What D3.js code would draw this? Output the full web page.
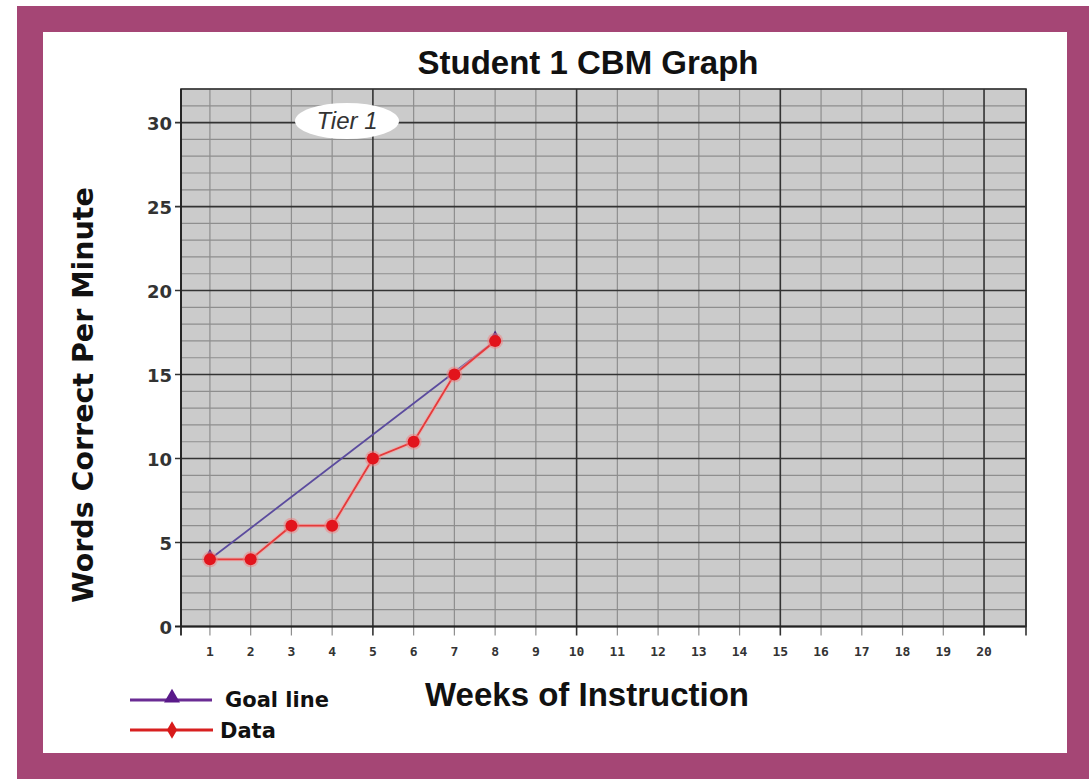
<!DOCTYPE html>
<html><head><meta charset="utf-8">
<script src="https://cdn.jsdelivr.net/npm/d3@7"></script>
<style>html,body{margin:0;padding:0;background:#fff;}svg{display:block;}</style>
</head><body>
<script>
// ---- data ----
const weeks = [1,2,3,4,5,6,7,8,9,10,11,12,13,14,15,16,17,18,19,20];
const yTicks = [0,5,10,15,20,25,30];
const goalWeeks = [1,8];
const goalValues = [4,17];
const dataWeeks = [1,2,3,4,5,6,7,8];
const dataValues = [4,4,6,6,10,11,15,17];
const title = "Student 1 CBM Graph";
const tierLabel = "Tier 1";
const legendLabels = ["Goal line","Data"];

const W = 1089, H = 779;
const svg = d3.select("body").append("svg").attr("width",W).attr("height",H);

// frame
svg.append("rect").attr("x",17).attr("y",6).attr("width",W-17).attr("height",H-6).attr("fill","#a54675");
svg.append("rect").attr("x",43).attr("y",32).attr("width",1024).attr("height",721).attr("fill","#ffffff");

const x = d3.scaleLinear().domain([0.29,21.03]).range([181,1026]);
const y = d3.scaleLinear().domain([0,32]).range([626.5,89]);

const g = svg.append("g");
g.append("rect").attr("x",x.range()[0]).attr("y",y.range()[1])
  .attr("width",x.range()[1]-x.range()[0]).attr("height",y.range()[0]-y.range()[1])
  .attr("fill","#cbcbcb");

// minor horizontal lines
const yMinor = d3.range(1,33).filter(v=>v%5!==0);
g.selectAll("line.hmin").data(yMinor).join("line")
  .attr("x1",x.range()[0]).attr("x2",x.range()[1])
  .attr("y1",d=>y(d)).attr("y2",d=>y(d))
  .attr("stroke","#8e8e8e").attr("stroke-width",1.2);
// minor vertical
g.selectAll("line.vmin").data(weeks.filter(w=>w%5!==0)).join("line")
  .attr("x1",d=>x(d)).attr("x2",d=>x(d))
  .attr("y1",y.range()[1]).attr("y2",y.range()[0]+9)
  .attr("stroke","#8e8e8e").attr("stroke-width",1.2);
// major horizontal
g.selectAll("line.hmaj").data(yTicks.filter(v=>v>0)).join("line")
  .attr("x1",x.range()[0]-6).attr("x2",x.range()[1])
  .attr("y1",d=>y(d)).attr("y2",d=>y(d))
  .attr("stroke","#333").attr("stroke-width",1.6);
// major vertical
g.selectAll("line.vmaj").data(weeks.filter(w=>w%5===0)).join("line")
  .attr("x1",d=>x(d)).attr("x2",d=>x(d))
  .attr("y1",y.range()[1]).attr("y2",y.range()[0]+9)
  .attr("stroke","#333").attr("stroke-width",1.6);
// border
g.append("rect").attr("x",x.range()[0]).attr("y",y.range()[1])
  .attr("width",x.range()[1]-x.range()[0]).attr("height",y.range()[0]-y.range()[1])
  .attr("fill","none").attr("stroke","#333").attr("stroke-width",1.6);
// axis base lines with extensions
g.append("line").attr("x1",x.range()[0]-6).attr("x2",x.range()[1]).attr("y1",y(0)).attr("y2",y(0)).attr("stroke","#222").attr("stroke-width",1.8);
g.append("line").attr("x1",x.range()[0]).attr("x2",x.range()[0]).attr("y1",y.range()[1]).attr("y2",y(0)+9).attr("stroke","#222").attr("stroke-width",1.8);
g.append("line").attr("x1",x.range()[1]).attr("x2",x.range()[1]).attr("y1",y.range()[1]).attr("y2",y(0)+9).attr("stroke","#333").attr("stroke-width",1.6);

// tick labels
g.selectAll("text.yt").data(yTicks).join("text")
  .attr("x",x.range()[0]-9).attr("y",d=>y(d)+7)
  .attr("text-anchor","end").attr("font-family","DejaVu Sans").attr("font-weight","bold")
  .attr("font-size",18).attr("fill","#333").text(d=>d);
g.selectAll("text.xt").data(weeks).join("text")
  .attr("x",d=>x(d)).attr("y",656)
  .attr("text-anchor","middle").attr("font-family","DejaVu Sans Mono").attr("font-weight","bold")
  .attr("font-size",13).attr("fill","#333").text(d=>d);

// Tier label
g.append("ellipse").attr("cx",347).attr("cy",121).attr("rx",52).attr("ry",18).attr("fill","#fff");
g.append("text").attr("x",347).attr("y",129).attr("text-anchor","middle")
  .attr("font-family","Liberation Sans").attr("font-style","italic").attr("font-size",24)
  .attr("fill","#333").text(tierLabel);

// goal line
const goal = goalWeeks.map((w,i)=>[w,goalValues[i]]);
const line = d3.line().x(d=>x(d[0])).y(d=>y(d[1]));
g.append("path").attr("d",line(goal)).attr("fill","none").attr("stroke","#5b4b9e").attr("stroke-width",1.8);
const tri = d3.symbol().type(d3.symbolTriangle).size(70);
g.selectAll("path.gm").data(goal).join("path")
  .attr("transform",d=>`translate(${x(d[0])},${y(d[1])-3})`).attr("d",tri).attr("fill","#4a2a80");

// data line
const dat = dataWeeks.map((w,i)=>[w,dataValues[i]]);
g.append("path").attr("d",line(dat)).attr("fill","none").attr("stroke","#f7a0a0").attr("stroke-width",4).attr("opacity",0.6);
g.append("path").attr("d",line(dat)).attr("fill","none").attr("stroke","#e53a3a").attr("stroke-width",1.8);
g.selectAll("circle.dh").data(dat).join("circle")
  .attr("cx",d=>x(d[0])).attr("cy",d=>y(d[1])).attr("r",8).attr("fill","#f28080").attr("opacity",0.5);
g.selectAll("circle.dm").data(dat).join("circle")
  .attr("cx",d=>x(d[0])).attr("cy",d=>y(d[1])).attr("r",6).attr("fill","#e2141c");

// titles
svg.append("text").attr("x",588).attr("y",74).attr("text-anchor","middle")
  .attr("font-family","Liberation Sans").attr("font-weight","bold").attr("font-size",33)
  .attr("fill","#111").text(title);
svg.append("text").attr("x",587).attr("y",706).attr("text-anchor","middle")
  .attr("font-family","Liberation Sans").attr("font-weight","bold").attr("font-size",33)
  .attr("fill","#111").text("Weeks of Instruction");
svg.append("text").attr("transform","translate(93,395) rotate(-90)").attr("text-anchor","middle")
  .attr("font-family","DejaVu Sans").attr("font-weight","bold").attr("font-size",28.5)
  .attr("fill","#111").text("Words Correct Per Minute");

// legend
const lg = svg.append("g");
lg.append("line").attr("x1",130).attr("x2",212).attr("y1",700).attr("y2",700).attr("stroke","#6a2c94").attr("stroke-width",3);
lg.append("path").attr("transform","translate(172,698)").attr("d",d3.symbol().type(d3.symbolTriangle).size(110)).attr("fill","#5a1a8a");
lg.append("text").attr("x",225).attr("y",707).attr("font-family","DejaVu Sans").attr("font-weight","bold").attr("font-size",21).attr("fill","#111").text(legendLabels[0]);
lg.append("line").attr("x1",130).attr("x2",213).attr("y1",730).attr("y2",730).attr("stroke","#d82020").attr("stroke-width",3);
lg.append("path").attr("transform","translate(172,730)").attr("d",d3.symbol().type(d3.symbolDiamond).size(90)).attr("fill","#d81a1a");
lg.append("text").attr("x",220).attr("y",738).attr("font-family","DejaVu Sans").attr("font-weight","bold").attr("font-size",21).attr("fill","#111").text(legendLabels[1]);
</script>
</body></html>
